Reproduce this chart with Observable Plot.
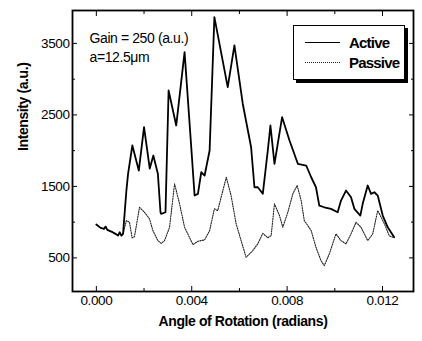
<!DOCTYPE html>
<html>
<head>
<meta charset="utf-8">
<script src="https://cdn.jsdelivr.net/npm/d3@7"></script>
<script src="https://cdn.jsdelivr.net/npm/@observablehq/plot@0.6"></script>
<style>
  html, body { margin: 0; padding: 0; background: #fff; }
  #wrap { position: relative; width: 422px; height: 341px; font-family: "Liberation Sans", Arial, sans-serif; }
  #legend { position: absolute; left: 293px; top: 25px; width: 110px; height: 53px; border: 1px solid #000; background: #fff; box-shadow: 3px 3px 0 #000; }
  .lrow { position: absolute; left: 0; display: flex; align-items: center; }
  .lline { width: 35px; margin-left: 11px; margin-right: 9px; }
  .ltext { font-weight: bold; font-size: 15px; letter-spacing: -0.8px; color: #000; }
  svg text { letter-spacing: -0.4px; }
</style>
</head>
<body>
<div id="wrap"></div>
<script>
// Shared start (both curves overlap)
const sharedX = [0, 0.00018, 0.00032, 0.00039, 0.00046, 0.00063, 0.00080, 0.00091, 0.00098, 0.00105, 0.00112];
const sharedY = [966, 920, 906, 938, 892, 868, 836, 812, 858, 812, 836];

// Active (solid)
const activeX = [0.00126, 0.00133, 0.00151, 0.00178, 0.00200, 0.00224, 0.00239, 0.00258, 0.00269, 0.00272, 0.00290,
  0.00303, 0.00335, 0.00370, 0.00398, 0.00412, 0.00426, 0.00440, 0.00454, 0.00475, 0.00495, 0.00551, 0.00579,
  0.00614, 0.00649, 0.00663, 0.00677, 0.00698, 0.00719, 0.00730, 0.00747, 0.00779, 0.00810, 0.00845, 0.00880,
  0.00901, 0.00921, 0.00935, 0.00956, 0.00984, 0.01012, 0.01026, 0.01047, 0.01068, 0.01082, 0.01107, 0.01117,
  0.01138, 0.01152, 0.01166, 0.01180, 0.01201, 0.01222, 0.01249];
const activeY = [1442, 1676, 2072, 1722, 2328, 1750, 1932, 1676, 1138, 1116, 1138,
  2842, 2352, 3378, 2048, 1372, 1396, 1698, 1652, 2002, 3868, 2888, 3472,
  2656, 2048, 1488, 1488, 1396, 2002, 2352, 1816, 2468, 2142, 1816, 1792,
  1628, 1488, 1232, 1208, 1186, 1138, 1302, 1442, 1348, 1186, 1092, 1256,
  1512, 1396, 1418, 1372, 1092, 928, 788];

// Passive (dotted)
const passiveX = [0.00126, 0.00139, 0.00150, 0.00160, 0.00181, 0.00202, 0.00223, 0.00237, 0.00258, 0.00272, 0.00286,
  0.00307, 0.00328, 0.00349, 0.00370, 0.00405, 0.00426, 0.00454, 0.00475, 0.00495, 0.00509, 0.00545, 0.00565,
  0.00586, 0.00607, 0.00628, 0.00656, 0.00677, 0.00698, 0.00719, 0.00733, 0.00747, 0.00768, 0.00782, 0.00803,
  0.00824, 0.00842, 0.00859, 0.00872, 0.00901, 0.00921, 0.00942, 0.00956, 0.00977, 0.01005, 0.01026, 0.01047,
  0.01068, 0.01089, 0.01110, 0.01138, 0.01159, 0.01180, 0.01208, 0.01228, 0.01243];
const passiveY = [1022, 998, 780, 798, 1208, 1138, 1046, 882, 742, 704, 742,
  928, 1536, 1256, 928, 686, 732, 752, 882, 1186, 1162, 1628, 1372,
  980, 742, 508, 602, 696, 844, 780, 812, 1256, 1092, 928, 1138,
  1396, 1512, 1302, 1022, 882, 648, 462, 392, 556, 836, 742, 696,
  836, 998, 928, 742, 836, 1162, 976, 812, 788];

const xMajor = [0, 0.004, 0.008, 0.012];
const xMinor = [0.002, 0.006, 0.010];
const yMajor = [500, 1500, 2500, 3500];
const yMinor = [1000, 2000, 3000];
const seriesNames = ["Active", "Passive"];
const notes = ["Gain = 250 (a.u.)", "a=12.5\u03bcm"];
const xTitle = "Angle of Rotation (radians)";
const yTitle = "Intensity (a.u.)";

const toRows = (xs, ys) => xs.map((x, i) => ({x, y: ys[i]}));
const active = toRows(sharedX.concat(activeX), sharedY.concat(activeY));
const passive = toRows(sharedX.concat(passiveX), sharedY.concat(passiveY));

const fmt = d3.format(".3f");
const none = () => "";

const chart = Plot.plot({
  width: 422,
  height: 341,
  marginLeft: 72,
  marginRight: 9,
  marginTop: 10,
  marginBottom: 50,
  style: {fontFamily: "'Liberation Sans', Arial, sans-serif", fontSize: "13px", color: "#000", background: "#fff"},
  x: {domain: [-0.001, 0.0133]},
  y: {domain: [30, 3960]},
  marks: [
    Plot.line(passive, {x: "x", y: "y", stroke: "#222", strokeWidth: 1.1, strokeDasharray: "1.2,1.3"}),
    Plot.line(active, {x: "x", y: "y", stroke: "#000", strokeWidth: 1.8}),
    Plot.frame({stroke: "#000", strokeWidth: 1.8}),
    Plot.axisX({ticks: xMajor, anchor: "bottom", tickSize: -5, tickPadding: 9, tickFormat: fmt, label: null, fontSize: 13.5}),
    Plot.axisX({ticks: xMinor, anchor: "bottom", tickSize: -3, tickFormat: none, label: null}),
    Plot.axisX({ticks: xMajor, anchor: "top", tickSize: -5, tickFormat: none, label: null}),
    Plot.axisX({ticks: xMinor, anchor: "top", tickSize: -3, tickFormat: none, label: null}),
    Plot.axisY({ticks: yMajor, anchor: "left", tickSize: -5, tickPadding: 8, tickFormat: d3.format("d"), label: null, fontSize: 13.5}),
    Plot.axisY({ticks: yMinor, anchor: "left", tickSize: -3, tickFormat: none, label: null}),
    Plot.axisY({ticks: yMajor, anchor: "right", tickSize: -5, tickFormat: none, label: null}),
    Plot.axisY({ticks: yMinor, anchor: "right", tickSize: -3, tickFormat: none, label: null}),
    Plot.text([notes[0]], {frameAnchor: "top-left", dx: 17, dy: 23, textAnchor: "start", fontSize: 14}),
    Plot.text([notes[1]], {frameAnchor: "top-left", dx: 17, dy: 42, textAnchor: "start", fontSize: 14}),
    Plot.text([xTitle], {frameAnchor: "bottom", dy: 34, fontSize: 14, fontWeight: "bold"}),
    Plot.text([yTitle], {frameAnchor: "left", dx: -49, rotate: -90, fontSize: 14, fontWeight: "bold"})
  ]
});

const wrap = document.getElementById("wrap");
wrap.appendChild(chart);

const legend = document.createElement("div");
legend.id = "legend";
const styles = [
  {border: "1.8px solid #000", top: 8},
  {border: "1px dotted #222", top: 28}
];
seriesNames.forEach((name, i) => {
  const row = document.createElement("div");
  row.className = "lrow";
  row.style.top = styles[i].top + "px";
  const ln = document.createElement("div");
  ln.className = "lline";
  ln.style.borderTop = styles[i].border;
  const tx = document.createElement("span");
  tx.className = "ltext";
  tx.textContent = name;
  row.appendChild(ln);
  row.appendChild(tx);
  legend.appendChild(row);
});
wrap.appendChild(legend);
</script>
</body>
</html>
